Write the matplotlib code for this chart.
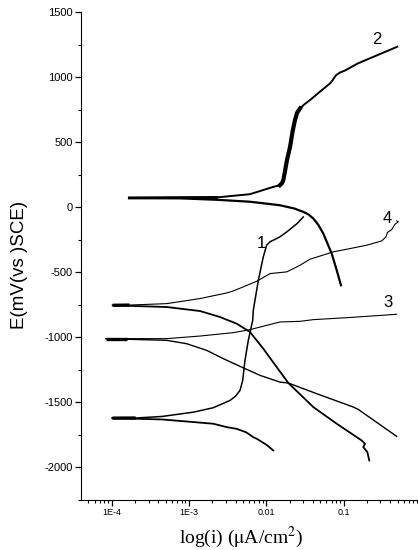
import numpy as np
import matplotlib
matplotlib.use('Agg')
import matplotlib.pyplot as plt
from matplotlib.ticker import FixedLocator, LogLocator, MultipleLocator, NullFormatter

plt.rcParams['font.family'] = ['Liberation Sans', 'DejaVu Sans']
plt.rcParams['mathtext.fontset'] = 'stix'
plt.rcParams['axes.unicode_minus'] = False

# 極化曲線資料 (i: uA/cm2, E: mV vs SCE)
# 曲線 1
c1_anodic_i = [1.02e-4, 2.04e-4, 4.48e-4, 1.14e-3, 2.06e-3, 3.39e-3, 4.0e-3, 4.57e-3, 4.95e-3,
               5.30e-3, 5.85e-3, 6.67e-3, 6.79e-3, 7.89e-3, 9.14e-3, 0.0101, 0.0112, 0.0123,
               0.0150, 0.0184, 0.0251, 0.0301]
c1_anodic_E = [-1621, -1620, -1608, -1575, -1541, -1485, -1452, -1408, -1331,
               -1177, -1023, -869, -792, -562, -382, -292, -265, -254,
               -228, -190, -125, -75]
c1_cathodic_i = [1.02e-4, 4.48e-4, 1.14e-3, 2.06e-3, 3.08e-3, 4.14e-3, 5.5e-3, 6.79e-3,
                 7.52e-3, 0.0100, 0.0123]
c1_cathodic_E = [-1621, -1631, -1651, -1664, -1690, -1703, -1730, -1767,
                 -1779, -1825, -1869]

# 曲線 2
c2_anodic_i = [1.69e-4, 5.68e-4, 2.28e-3, 6.15e-3, 0.0123, 0.0150, 0.0160, 0.0166, 0.0175,
               0.0185, 0.0203, 0.0220, 0.0235, 0.0250, 0.0273, 0.0310, 0.0367, 0.0500,
               0.0667, 0.0720, 0.0752, 0.0800, 0.0900, 0.104, 0.153, 0.495]
c2_anodic_E = [71, 73, 75, 100, 156, 169, 185, 208, 280,
               362, 464, 590, 669, 725, 759, 790, 823, 890,
               951, 975, 992, 1015, 1035, 1050, 1105, 1233]
c2_cathodic_i = [1.69e-4, 7.66e-4, 2.28e-3, 6.15e-3, 0.0150, 0.0230, 0.0301, 0.0350,
                 0.0406, 0.0470, 0.0546, 0.0701, 0.0815, 0.0925]
c2_cathodic_E = [71, 68, 57, 42, 15, -10, -36, -55,
                 -87, -135, -202, -356, -485, -600]

# 曲線 3
c3_anodic_i = [8.43e-5, 1.6e-4, 5.15e-4, 1.39e-3, 3.74e-3, 6.15e-3, 0.0101, 0.0150, 0.0273,
               0.0406, 0.110, 0.486]
c3_anodic_E = [-1010, -1010, -1010, -990, -964, -941, -908, -882, -877,
               -864, -849, -823]
c3_cathodic_i = [8.43e-5, 5.15e-4, 9.33e-4, 1.69e-3, 2.78e-3, 4.57e-3, 8.28e-3, 0.0150,
                 0.0193, 0.0273, 0.0449, 0.134, 0.155, 0.486]
c3_cathodic_E = [-1010, -1023, -1049, -1100, -1164, -1223, -1292, -1344,
                 -1351, -1385, -1433, -1536, -1554, -1761]

# 曲線 4
c4_anodic_i = [1.03e-4, 1.7e-4, 5.15e-4, 1.39e-3, 3.08e-3, 3.74e-3, 7.52e-3, 0.0112, 0.0184,
               0.0224, 0.0273, 0.0367, 0.0736, 0.110, 0.199, 0.311, 0.354, 0.368, 0.419,
               0.462, 0.510, 0.486]
c4_anodic_E = [-754, -752, -741, -702, -659, -644, -569, -510, -497,
               -472, -446, -400, -343, -323, -292, -259, -228, -195, -172,
               -131, -113, -105]
c4_cathodic_i = [1.03e-4, 5.15e-4, 1.39e-3, 2.52e-3, 4.14e-3, 6.15e-3, 9.14e-3, 0.0136,
                 0.0193, 0.0406, 0.0815, 0.171, 0.189, 0.180, 0.203, 0.215]
c4_cathodic_E = [-754, -767, -798, -844, -895, -959, -1087, -1228,
                 -1351, -1536, -1664, -1792, -1818, -1844, -1882, -1946]

curve_labels = ['1', '2', '3', '4']
label_i = [0.0087, 0.27, 0.375, 0.364]
label_E = [-279, 1285, -731, -85]

x_ticks = [1e-4, 1e-3, 1e-2, 1e-1]
x_tick_labels = ['1E-4', '1E-3', '0.01', '0.1']
y_ticks = [-2000, -1500, -1000, -500, 0, 500, 1000, 1500]

fig = plt.figure(figsize=(4.18, 5.5), dpi=100)
ax = fig.add_axes([0.1938, 0.0909, 0.8062, 0.8873])

k = 'black'
ax.plot(c1_anodic_i, c1_anodic_E, color=k, lw=1.1)
ax.plot(c1_cathodic_i, c1_cathodic_E, color=k, lw=1.3)
ax.plot(c2_anodic_i, c2_anodic_E, color=k, lw=1.4)
ax.plot(c2_anodic_i[5:15], c2_anodic_E[5:15], color=k, lw=3.0)
ax.plot(c2_cathodic_i, c2_cathodic_E, color=k, lw=1.6)
ax.plot(c3_anodic_i, c3_anodic_E, color=k, lw=0.8)
ax.plot(c3_cathodic_i, c3_cathodic_E, color=k, lw=1.0)
ax.plot(c4_anodic_i, c4_anodic_E, color=k, lw=0.8)
ax.plot(c4_cathodic_i, c4_cathodic_E, color=k, lw=1.3)

# 起始段較粗
for xi, yi in [(c1_anodic_i, c1_anodic_E), (c3_anodic_i, c3_anodic_E), (c4_anodic_i, c4_anodic_E)]:
    ax.plot(xi[:2], yi[:2], color=k, lw=2.4, solid_capstyle='butt')
ax.plot(c2_anodic_i[:3], c2_anodic_E[:3], color=k, lw=2.0)

ax.set_xscale('log')
ax.set_xlim(10 ** -4.397, 10 ** -0.0375)
ax.set_ylim(-2250, 1500)

ax.spines['top'].set_visible(False)
ax.spines['right'].set_visible(False)

ax.xaxis.set_major_locator(FixedLocator(x_ticks))
ax.set_xticklabels(x_tick_labels)
ax.xaxis.set_minor_locator(LogLocator(base=10, subs=np.arange(2, 10)))
ax.xaxis.set_minor_formatter(NullFormatter())
ax.set_yticks(y_ticks)
ax.yaxis.set_minor_locator(MultipleLocator(250))

ax.tick_params(axis='both', which='major', direction='out', length=4, width=0.9)
ax.tick_params(axis='both', which='minor', direction='out', length=2.2, width=0.8)
ax.tick_params(axis='x', labelsize=6.5, pad=2)
ax.tick_params(axis='y', labelsize=8, pad=2)

ax.set_ylabel('E(mV(vs )SCE)', fontsize=13.5)
ax.yaxis.set_label_coords(-0.157, 0.482)
ax.set_xlabel(r'log(i) ($\mathrm{\mu}$A/cm$^2$)', fontsize=14, family='Liberation Serif')
ax.xaxis.set_label_coords(0.475, -0.05)

# 曲線編號
for t, xi, yi in zip(curve_labels, label_i, label_E):
    ax.text(xi, yi, t, fontsize=12, ha='center', va='center')

plt.savefig('out.png', dpi=100)
